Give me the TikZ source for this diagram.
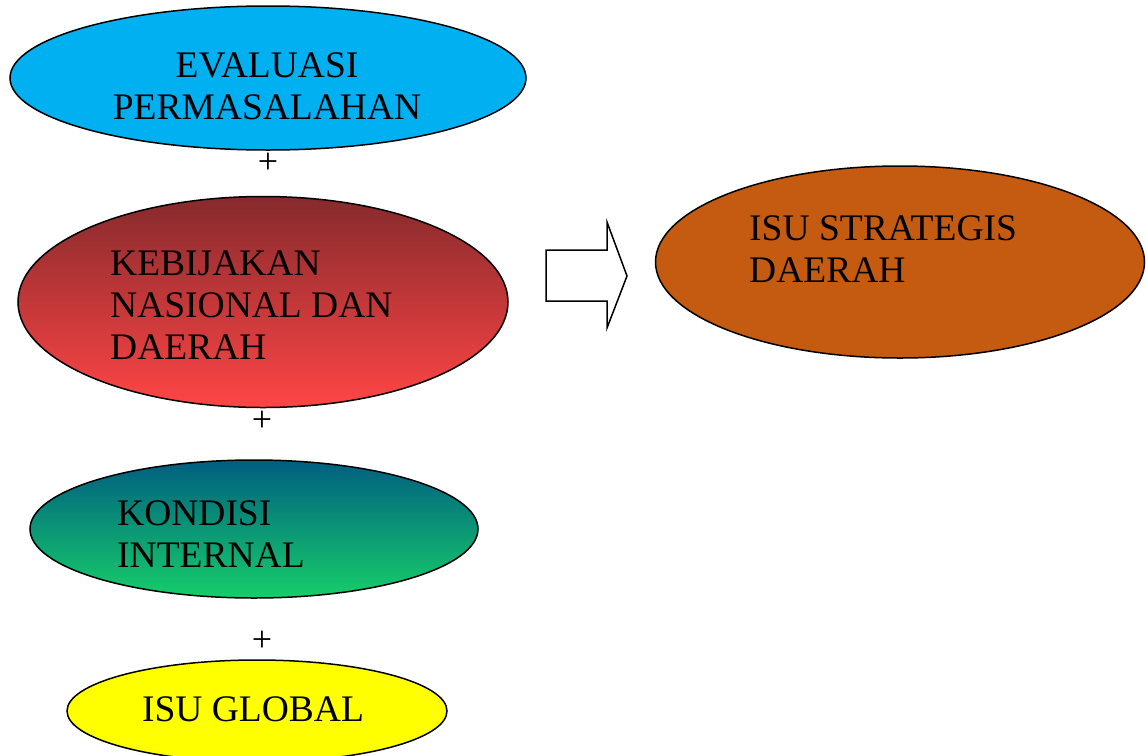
\documentclass[tikz,border=0pt]{standalone}
\usepackage{fontspec}
\setmainfont{Liberation Serif}
\usetikzlibrary{shapes.geometric}
\definecolor{cyanfill}{HTML}{00B0F0}
\definecolor{redtop}{HTML}{862A2D}
\definecolor{redbot}{HTML}{FF4545}
\definecolor{greentop}{HTML}{005E80}
\definecolor{greenbot}{HTML}{16CE6A}
\definecolor{orangefill}{HTML}{C55A11}
\definecolor{yellowfill}{HTML}{FFFF00}
\tikzset{
  oval/.style={draw=black, line width=1.5pt, ellipse, inner sep=0pt},
  lbl/.style={font=\fontsize{37.5}{42}\selectfont, inner sep=0pt, text=black},
  plus/.style={font=\fontsize{36}{38}\selectfont, inner sep=0pt}
}
\begin{document}
\begin{tikzpicture}[x=1pt,y=-1pt]
\useasboundingbox (0,0) rectangle (1147,755);
% ellipses
\node[oval, fill=cyanfill, minimum width=516pt, minimum height=144pt] (e1) at (268,78) {};
\node[oval, top color=redtop, bottom color=redbot, minimum width=490pt, minimum height=211pt] (e2) at (263,302) {};
\node[oval, top color=greentop, bottom color=greenbot, minimum width=448pt, minimum height=138pt] (e3) at (254,529) {};
\node[oval, fill=yellowfill, minimum width=380pt, minimum height=102pt] (e4) at (257,711) {};
\node[oval, fill=orangefill, minimum width=489pt, minimum height=192pt] (e5) at (900,262) {};
% texts
\node[lbl, align=center, anchor=north] (t1) at (267,52) {EVALUASI\\PERMASALAHAN};
\node[lbl, align=left, anchor=north west] (t2) at (110,250.5) {KEBIJAKAN\\NASIONAL DAN\\DAERAH};
\node[lbl, align=left, anchor=north west] (t3) at (117,500.5) {KONDISI\\INTERNAL};
\node[lbl, anchor=north] (t4) at (253,696.5) {ISU GLOBAL};
\node[lbl, align=left, anchor=north west] (t5) at (749,215.5) {ISU STRATEGIS\\DAERAH};
% plus signs
\node[plus] (p1) at (268,163) {+};
\node[plus] (p2) at (262,421) {+};
\node[plus] (p3) at (262,641) {+};
% arrow
\draw[line width=1.5pt, fill=white] (546,250) -- (607,250) -- (607,222) -- (627,276) -- (607,328) -- (607,301) -- (546,301) -- cycle;
\end{tikzpicture}
\end{document}
